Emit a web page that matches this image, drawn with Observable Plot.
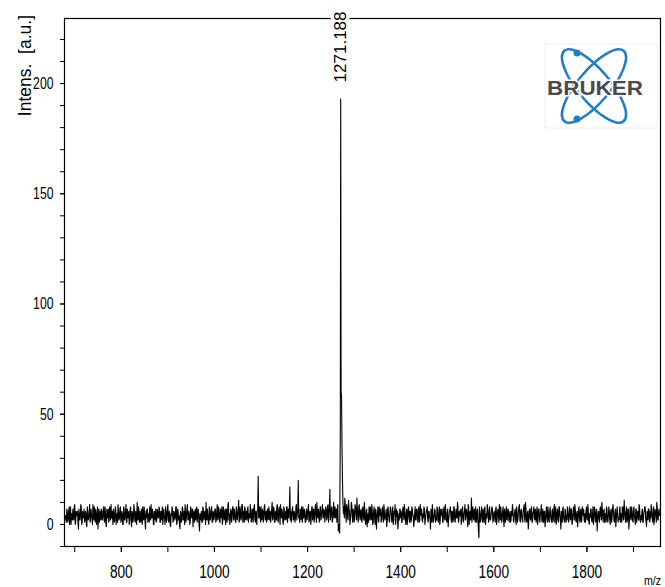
<!DOCTYPE html>
<html>
<head>
<meta charset="utf-8">
<script src="https://cdn.jsdelivr.net/npm/d3@7"></script>
<script src="https://cdn.jsdelivr.net/npm/@observablehq/plot@0.6"></script>
<style>
  html, body { margin: 0; padding: 0; background: #fff; }
  svg { display: block; }
</style>
</head>
<body>
<div id="chart"></div>
<script>
// ---- data ----
// even m/z samples, left of the main peak
const seg1Start = 680, seg1Step = 2;
const seg1Int = [
  4,1,6,2,8,3,0,5,7,2,9,1,4,6,-2,5,3,8,1,4,
  7,2,5,-1,6,3,9,2,4,0,6,8,1,5,3,-2,7,4,2,6,
  3,8,1,5,-1,4,7,2,6,9,3,0,5,2,7,4,1,6,3,8,
  2,5,0,7,3,9,1,4,6,2,8,-1,5,3,7,1,4,10,2,5,
  6,1,4,8,2,5,-2,3,7,4,1,6,9,3,5,0,4,7,2,6,
  3,7,1,5,8,2,4,0,6,3,9,1,5,-1,4,7,2,5,3,8,
  1,6,4,-2,5,2,7,3,0,6,4,9,2,5,1,7,3,-1,6,4,
  2,8,3,5,-3,4,6,1,7,3,5,10,2,4,0,6,3,8,1,5,
  4,7,2,9,3,6,1,5,8,2,6,4,0,7,3,10,5,2,6,4,
  8,3,5,1,7,4,11,2,6,3,9,5,1,7,4,2,8,5,3,6,
  2,7,4,9,1,5,6,22,3,5,8,2,6,4,9,3,1,7,5,2,
  6,4,10,3,7,1,5,8,2,6,4,9,3,5,0,7,4,2,8,5,
  3,17,6,4,8,2,5,3,9,5,20,4,7,2,6,8,3,5,1,7,
  4,9,2,6,3,8,5,1,7,4,10,3,6,2,8,5,9,3,6,4,
  7,3,9,5,16,4,8,2,10,5,3,7,6,-3
];
// odd m/z samples, left of the main peak
const seg1bStart = 681, seg1bStep = 2;
const seg1bInt = [
  2,7,1,6,0,8,4,2,3,8,0,6,5,1,7,2,9,0,6,3,
  1,6,0,8,2,5,1,7,3,9,2,4,7,0,8,5,1,6,7,2,
  6,2,8,0,7,3,1,8,2,3,6,7,1,8,0,5,9,2,7,1,
  6,0,8,2,6,1,7,3,0,7,2,6,1,9,2,6,0,3,8,1,
  2,7,0,4,8,1,6,7,1,5,8,2,3,7,0,6,2,1,7,3,
  8,1,6,2,0,7,3,8,1,7,2,6,0,5,8,1,6,2,8,0,
  7,2,0,6,1,8,2,6,9,1,7,2,6,0,8,3,7,5,1,7,
  6,1,7,0,5,2,1,8,2,6,0,3,7,1,8,2,7,1,6,2,
  7,1,6,2,8,1,7,3,0,8,2,7,6,1,9,2,0,7,1,8,
  2,7,1,8,2,6,1,8,2,9,1,6,8,2,6,7,1,3,9,1,
  7,1,8,2,6,0,7,3,8,1,2,7,1,8,2,6,5,2,8,6,
  1,7,2,8,1,6,2,9,1,8,0,5,7,1,8,2,6,8,1,7,
  8,2,1,7,2,6,1,8,2,7,3,1,6,8,1,3,7,1,6,2,
  7,1,6,0,8,2,7,3,9,1,5,7,1,8,2,6,3,7,1,8,
  2,8,1,8,2,7,1,6,3,8,6,1,9,0
];
// main peak
const peakMz  = [1269, 1270.3, 1271.188, 1272.0, 1273.0, 1274.0, 1275.0, 1276.0];
const peakInt = [-4, 40, 193, 60, 58, 35, 20, 10];
// even m/z samples, right of the main peak
const seg2Start = 1278, seg2Step = 2;
const seg2Int = [
  8,12,5,9,3,11,6,2,10,4,7,1,9,5,12,3,8,4,6,2,
  7,3,10,1,6,-1,5,8,2,4,9,0,6,3,7,-2,5,2,8,4,
  1,6,3,9,2,5,-1,7,4,1,8,3,5,0,6,9,2,4,-2,5,
  7,3,1,6,4,9,2,5,0,7,3,6,1,8,4,-1,5,2,7,3,
  6,1,9,4,2,5,8,0,4,7,2,6,3,-2,5,9,1,4,6,3,
  8,2,5,0,7,4,1,6,3,9,2,5,-1,4,7,3,6,1,8,2,
  5,3,10,1,6,4,0,7,2,5,9,3,6,-1,8,4,2,12,5,3,
  7,1,4,6,2,-6,5,3,8,1,4,7,0,5,9,3,6,2,4,8,
  1,5,3,7,0,6,4,9,2,5,3,8,-1,4,6,2,7,3,5,1,
  6,9,2,4,7,0,5,3,8,2,6,4,1,7,3,10,2,5,-2,6,
  3,7,1,5,8,2,4,6,0,7,3,5,9,1,4,6,-1,5,3,8,
  2,6,4,1,7,3,9,5,0,6,2,8,4,-2,5,7,3,1,6,4,
  8,2,5,3,7,0,4,6,9,2,5,-1,7,3,6,1,8,4,2,5,
  6,3,9,1,5,7,2,4,0,8,3,6,-3,5,2,7,4,10,3,6,
  1,5,8,2,4,6,0,7,3,9,2,5,-1,6,4,3,7,1,5,8,
  3,11,4,6,1,7,-2,5,3,8,2,6,4,0,7,3,5,9,2,4,
  6,1,5,8,3,-1,4,7,2,6,9,3,5,0,7,4,10,2,6,4
];
// odd m/z samples, right of the main peak
const seg2bStart = 1277, seg2bStep = 2;
const seg2bInt = [
  5,3,9,1,8,2,7,0,5,9,1,6,3,8,2,7,1,9,2,7,
  1,8,2,6,0,7,3,1,7,8,2,6,1,8,0,6,3,8,1,6,
  7,2,8,1,6,3,7,1,8,2,6,7,1,8,2,5,0,7,6,1,
  2,7,6,1,8,2,6,0,7,3,8,1,6,2,7,4,1,8,2,7,
  1,8,2,6,7,1,3,7,2,6,8,1,6,3,7,1,6,2,7,1,
  2,7,1,8,2,6,7,1,8,2,6,1,7,2,6,8,1,6,2,8,
  1,7,3,8,2,6,7,2,8,1,6,2,7,3,9,0,6,4,1,8,
  2,6,8,1,7,-3,8,1,6,2,7,1,8,2,3,7,1,8,2,6,
  7,2,6,1,8,2,7,1,6,8,1,6,2,7,1,8,2,7,1,6,
  2,4,7,1,6,2,8,1,6,9,1,7,2,6,9,1,7,1,6,1,
  7,2,8,1,6,3,7,1,8,2,7,1,6,2,7,1,6,2,8,1,
  6,1,8,2,6,1,7,1,8,2,7,1,8,2,6,1,8,2,7,1,
  2,7,1,8,2,7,1,8,2,7,1,6,2,8,1,7,2,6,7,1,
  1,8,2,6,0,3,7,1,8,2,7,1,7,2,6,1,8,2,7,1,
  7,2,1,7,1,8,2,6,1,7,6,1,7,2,8,1,2,8,3,1,
  8,2,6,1,8,2,7,1,8,2,6,1,8,2,7,1,6,2,8,1,
  2,7,1,6,8,1,6,2,7,1,3,7,1,8,2,6,1,8,2,7
];
const peakLabels = [{mz: 1271.188, label: "1271.188"}];
const xTickLabels = [800, 1000, 1200, 1400, 1600, 1800];
const xTicksAll = [700, 800, 900, 1000, 1100, 1200, 1300, 1400, 1500, 1600, 1700, 1800, 1900];
const yTickLabels = [0, 50, 100, 150, 200];
const yTicksAll = [-10, 0, 10, 20, 30, 40, 50, 60, 70, 80, 90, 100, 110, 120, 130, 140, 150, 160, 170, 180, 190, 200, 210, 220];

// ---- build table ----
const spectrum = [];
const addSeg = (start, step, vals) => vals.forEach((v, i) => spectrum.push({mz: start + i * step, intensity: v}));
addSeg(seg1Start, seg1Step, seg1Int);
addSeg(seg1bStart, seg1bStep, seg1bInt);
peakMz.forEach((m, i) => spectrum.push({mz: m, intensity: peakInt[i]}));
addSeg(seg2Start, seg2Step, seg2Int);
addSeg(seg2bStart, seg2bStep, seg2bInt);
spectrum.sort((a, b) => a.mz - b.mz);

const sans = "'Liberation Sans', Arial, Helvetica, sans-serif";

const chart = Plot.plot({
  width: 665,
  height: 587,
  marginLeft: 64,
  marginRight: 5,
  marginTop: 18,
  marginBottom: 41,
  style: {fontFamily: sans, fontSize: "16px", color: "#000", background: "#fff", overflow: "visible"},
  x: {domain: [678, 1958]},
  y: {domain: [-10, 229.5]},
  marks: [
    Plot.line(spectrum, {x: "mz", y: "intensity", stroke: "#000", strokeWidth: 1.1}),
    Plot.frame({stroke: "#000", strokeWidth: 1.2}),
    Plot.axisY({ticks: yTicksAll, tickSize: 4, text: null, label: null, stroke: "#000"}),
    Plot.axisY({ticks: yTickLabels, tickSize: 4, tickPadding: 7, tickFormat: d3.format("d"), label: null, fontSize: 17, fill: "#000"}),
    Plot.axisX({ticks: xTicksAll, tickSize: 6, text: null, label: null, stroke: "#000"}),
    Plot.axisX({ticks: xTickLabels, tickSize: 6, tickPadding: 13, tickFormat: d3.format("d"), label: null, fontSize: 18, fill: "#000"}),
    Plot.text(peakLabels, {
      x: "mz", y: () => 216.6, text: "label", rotate: -90,
      fontSize: 17, fontFamily: sans,
      fill: "#000", stroke: "#fff", strokeWidth: 7
    })
  ]
});

const svg = d3.select(chart);

// y axis title
svg.append("text")
  .attr("transform", "translate(31,15) rotate(-90)")
  .attr("text-anchor", "end")
  .attr("font-family", sans)
  .attr("font-size", 17.5)
  .attr("fill", "#000")
  .style("white-space", "pre")
  .text("Intens.  [a.u.]");
// x unit
svg.append("text")
  .attr("transform", "translate(661,585) scale(0.85,1)")
  .attr("text-anchor", "end")
  .attr("font-family", sans)
  .attr("font-size", 12.5)
  .attr("fill", "#000")
  .text("m/z");

// logo
const logo = svg.append("g");
logo.append("rect").attr("x", 545).attr("y", 44).attr("width", 112).attr("height", 84)
  .attr("fill", "#fff").attr("stroke", "#f0f0f0").attr("stroke-width", 1);
const cx = 594, cy = 86;
[50, -50].forEach(a => {
  logo.append("ellipse").attr("cx", 0).attr("cy", 0).attr("rx", 46).attr("ry", 16)
    .attr("transform", `translate(${cx},${cy}) rotate(${a})`)
    .attr("fill", "none").attr("stroke", "#1f7fc8").attr("stroke-width", 2.6);
});
logo.append("circle").attr("cx", 577).attr("cy", 53).attr("r", 3.5).attr("fill", "#1f7fc8");
logo.append("circle").attr("cx", 577).attr("cy", 119).attr("r", 3.5).attr("fill", "#1f7fc8");
logo.append("text")
  .attr("x", 595).attr("y", 95)
  .attr("text-anchor", "middle")
  .attr("font-family", sans)
  .attr("font-weight", "bold")
  .attr("font-size", 21)
  .attr("fill", "#4a4a4a")
  .attr("stroke", "#fff").attr("stroke-width", 3).attr("paint-order", "stroke")
  .attr("textLength", 96).attr("lengthAdjust", "spacingAndGlyphs")
  .text("BRUKER");

document.getElementById("chart").appendChild(chart);

// narrow the tick-label glyphs (the original uses a condensed face)
chart.querySelectorAll('g[aria-label="y-axis tick label"] text').forEach(t => {
  const w = t.getComputedTextLength();
  t.setAttribute("textLength", (w * 0.72).toFixed(2));
  t.setAttribute("lengthAdjust", "spacingAndGlyphs");
});
chart.querySelectorAll('g[aria-label="x-axis tick label"] text').forEach(t => {
  const w = t.getComputedTextLength();
  t.setAttribute("textLength", (w * 0.76).toFixed(2));
  t.setAttribute("lengthAdjust", "spacingAndGlyphs");
});
</script>
</body>
</html>
